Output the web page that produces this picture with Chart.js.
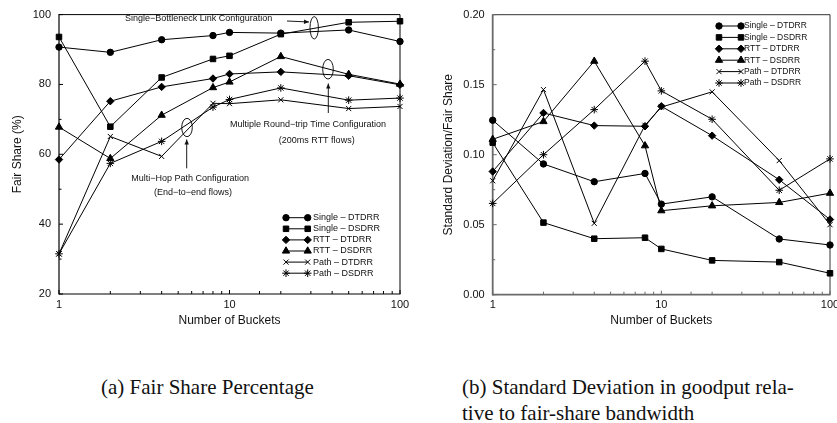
<!DOCTYPE html>
<html>
<head>
<meta charset="utf-8">
<script src="https://cdn.jsdelivr.net/npm/chart.js"></script>
<style>
html,body{margin:0;padding:0;background:#fff;overflow:hidden;width:837px;height:423px;}
canvas{position:absolute;top:0;}
#c1{left:0;}
#c2{left:420px;}
.cap{position:absolute;font-family:"Liberation Serif","Times New Roman",serif;font-size:21px;line-height:26px;color:#111;white-space:nowrap;}
</style>
</head>
<body>
<canvas id="c1" width="420" height="340"></canvas>
<canvas id="c2" width="430" height="340"></canvas>
<div class="cap" style="left:101px;top:374px;">(a) Fair Share Percentage</div>
<div class="cap" style="left:462px;top:374px;width:325px;text-align:justify;text-align-last:justify;">(b) Standard Deviation in goodput rela-</div>
<div class="cap" style="left:462px;top:400px;">tive to fair-share bandwidth</div>
<script>
// ---------------- data ----------------
const buckets = [1, 2, 4, 8, 10, 20, 50, 100];
const seriesLabels = ['Single \u2013 DTDRR', 'Single \u2013 DSDRR', 'RTT \u2013 DTDRR', 'RTT \u2013 DSDRR', 'Path \u2013 DTDRR', 'Path \u2013 DSDRR'];

// (a) Fair share percentage
const fairSingleDTDRR = [90.7, 89.2, 92.8, 94.0, 94.9, 94.7, 95.6, 92.3];
const fairSingleDSDRR = [93.6, 67.9, 82.0, 87.3, 88.2, 94.4, 97.8, 98.1];
const fairRttDTDRR    = [58.5, 75.2, 79.3, 81.7, 83.0, 83.6, 82.5, 79.9];
const fairRttDSDRR    = [67.8, 58.8, 71.2, 79.1, 80.7, 88.0, 82.9, 80.1];
const fairPathDTDRR   = [31.5, 65.1, 59.4, 74.6, 74.5, 75.6, 73.1, 73.7];
const fairPathDSDRR   = [31.5, 57.4, 63.7, 73.5, 75.7, 79.0, 75.5, 76.1];

// (b) Standard deviation / fair share
const sdSingleDTDRR = [0.1246, 0.0934, 0.0807, 0.0866, 0.0647, 0.0699, 0.0398, 0.0355];
const sdSingleDSDRR = [0.1086, 0.0515, 0.0400, 0.0407, 0.0327, 0.0245, 0.0233, 0.0153];
const sdRttDTDRR    = [0.0880, 0.1298, 0.1208, 0.1203, 0.1346, 0.1136, 0.0821, 0.0537];
const sdRttDSDRR    = [0.1110, 0.1237, 0.1668, 0.1064, 0.0600, 0.0635, 0.0659, 0.0725];
const sdPathDTDRR   = [0.0814, 0.1465, 0.0510, 0.1210, 0.1340, 0.1449, 0.0958, 0.0500];
const sdPathDSDRR   = [0.0652, 0.1000, 0.1322, 0.1668, 0.1456, 0.1253, 0.0746, 0.0970];

const xTickLabels = [1, 10, 100];
const fairYTicks = [20, 40, 60, 80, 100];
const sdYTicks = [0.00, 0.05, 0.10, 0.15, 0.20];

// ---------------- styling ----------------
const SANS = '"Liberation Sans", Arial, Helvetica, sans-serif';
const markerStyles = [
  {pointStyle: 'circle', r: 3.2},
  {pointStyle: 'rect', r: 3.9},
  {pointStyle: 'rectRot', r: 3.7},
  {pointStyle: 'triangle', r: 4.2},
  {pointStyle: 'crossRot', r: 3.6},
  {pointStyle: 'star', r: 3.8}
];

function drawMarker(ctx, style, r, x, y) {
  if (Chart.helpers && Chart.helpers.drawPoint) {
    Chart.helpers.drawPoint(ctx, {pointStyle: style, radius: r, rotation: 0, borderWidth: 1}, x, y);
    return;
  }
  ctx.beginPath(); ctx.arc(x, y, r, 0, Math.PI * 2); ctx.fill(); ctx.stroke();
}

function line(ctx, x1, y1, x2, y2) {
  ctx.beginPath(); ctx.moveTo(x1, y1); ctx.lineTo(x2, y2); ctx.stroke();
}

const framePlugin = {
  id: 'frame',
  beforeDatasetsDraw(chart, args, o) {
    const {ctx, chartArea: {left, right, top, bottom}, scales: {x, y}} = chart;
    ctx.save();
    ctx.lineCap = 'butt';
    ctx.strokeStyle = o.edgeColor; ctx.lineWidth = o.edgeWidth;
    line(ctx, left, top, right, top);
    line(ctx, right, top, right, bottom);
    ctx.strokeStyle = o.axisColor; ctx.lineWidth = o.axisWidth;
    line(ctx, left, top - 0.5, left, bottom + o.axisWidth / 2);
    line(ctx, left, bottom, right + 0.5, bottom);
    ctx.lineWidth = 1;
    x.ticks.forEach(t => {
      const px = x.getPixelForValue(t.value);
      const len = xTickLabels.includes(t.value) ? o.xMajor : o.xMinor;
      line(ctx, px, bottom, px, bottom - len);
    });
    y.ticks.forEach((t, i) => {
      const py = y.getPixelForValue(t.value);
      line(ctx, left, py, left + o.yMajor, py);
      if (i < y.ticks.length - 1) {
        const pm = y.getPixelForValue((t.value + y.ticks[i + 1].value) / 2);
        line(ctx, left, pm, left + o.yMinor, pm);
      }
    });
    ctx.restore();
  }
};

const legendPlugin = {
  id: 'lineLegend',
  afterDraw(chart, args, o) {
    const ctx = chart.ctx;
    ctx.save();
    ctx.font = o.fontSize + 'px ' + SANS;
    ctx.textBaseline = 'middle';
    ctx.textAlign = 'left';
    chart.data.datasets.forEach((ds, i) => {
      const yy = o.y0 + i * o.dy;
      ctx.strokeStyle = '#000'; ctx.fillStyle = '#000'; ctx.lineWidth = 1;
      line(ctx, o.x1, yy, o.x2, yy);
      drawMarker(ctx, ds.pointStyle, ds.pointRadius, o.x1, yy);
      drawMarker(ctx, ds.pointStyle, ds.pointRadius, o.x2, yy);
      ctx.fillStyle = '#111';
      ctx.fillText(ds.label, o.tx, yy);
    });
    ctx.restore();
  }
};

function arrow(ctx, x1, y1, x2, y2) {
  line(ctx, x1, y1, x2, y2);
  const a = Math.atan2(y2 - y1, x2 - x1), L = 5, W = 2.2;
  ctx.beginPath();
  ctx.moveTo(x2, y2);
  ctx.lineTo(x2 - L * Math.cos(a) + W * Math.sin(a), y2 - L * Math.sin(a) - W * Math.cos(a));
  ctx.lineTo(x2 - L * Math.cos(a) - W * Math.sin(a), y2 - L * Math.sin(a) + W * Math.cos(a));
  ctx.closePath(); ctx.fill();
}

const notesPlugin = {
  id: 'notes',
  afterDatasetsDraw(chart, args, o) {
    if (!o || !o.items) return;
    const ctx = chart.ctx;
    ctx.save();
    ctx.strokeStyle = '#000'; ctx.fillStyle = '#111'; ctx.lineWidth = 0.9;
    ctx.font = '9px ' + SANS; ctx.textAlign = 'center'; ctx.textBaseline = 'middle';
    o.items.forEach(it => {
      if (it.t === 'text') ctx.fillText(it.s, it.x, it.y);
      else if (it.t === 'ellipse') { ctx.beginPath(); ctx.ellipse(it.x, it.y, it.rx, it.ry, 0, 0, Math.PI * 2); ctx.stroke(); }
      else if (it.t === 'arrow') arrow(ctx, it.x1, it.y1, it.x2, it.y2);
    });
    ctx.restore();
  }
};

function makeChart(canvas, series, cfg) {
  return new Chart(canvas, {
    type: 'line',
    data: {
      datasets: series.map((arr, k) => ({
        label: seriesLabels[k],
        data: buckets.map((b, i) => ({x: b, y: arr[i]})),
        borderColor: '#000', backgroundColor: '#000', borderWidth: 1,
        pointStyle: markerStyles[k].pointStyle, pointRadius: markerStyles[k].r,
        pointBorderWidth: 1, pointBackgroundColor: '#000', pointBorderColor: '#000',
        pointHoverRadius: markerStyles[k].r,
        tension: 0, fill: false, clip: false
      }))
    },
    options: {
      responsive: false, animation: false, devicePixelRatio: 1,
      events: [],
      layout: {padding: {left: 0, top: cfg.top, right: cfg.right, bottom: 0}},
      plugins: {
        legend: {display: false}, tooltip: {enabled: false},
        frame: cfg.frame, lineLegend: cfg.legend, notes: cfg.notes || {}
      },
      scales: {
        x: {
          type: 'logarithmic', min: 1, max: 100,
          grid: {display: false, drawTicks: false}, border: {display: false},
          ticks: {autoSkip: false, maxRotation: 0, padding: 4, color: '#111',
            font: {family: SANS, size: 11},
            callback: v => xTickLabels.includes(v) ? String(v) : ''},
          title: {display: true, text: 'Number of Buckets', color: '#111',
            font: {family: SANS, size: 12}, padding: {top: 0, bottom: 12}},
          afterFit: s => { s.height = cfg.xh; }
        },
        y: {
          type: 'linear', min: cfg.yTicks[0], max: cfg.yTicks[cfg.yTicks.length - 1],
          grid: {display: false, drawTicks: false}, border: {display: false},
          afterBuildTicks: s => { s.ticks = cfg.yTicks.map(v => ({value: v})); },
          ticks: {padding: 8, color: '#111', font: {family: SANS, size: 11}, callback: cfg.yFmt},
          title: {display: true, text: cfg.yTitle, color: '#111',
            font: {family: SANS, size: 12}, padding: {top: cfg.yTitlePad, bottom: 0}},
          afterFit: s => { s.width = cfg.yw; }
        }
      }
    },
    plugins: [framePlugin, notesPlugin, legendPlugin]
  });
}

makeChart(document.getElementById('c1'),
  [fairSingleDTDRR, fairSingleDSDRR, fairRttDTDRR, fairRttDSDRR, fairPathDTDRR, fairPathDSDRR],
  {
    top: 11, right: 20, xh: 46, yw: 59, yTicks: fairYTicks, yTitle: 'Fair Share (%)', yTitlePad: 10.3,
    yFmt: v => String(v),
    frame: {edgeColor: '#000', edgeWidth: 1, axisColor: '#000', axisWidth: 1.2, xMajor: 4, xMinor: 3, yMajor: 4, yMinor: 2.5},
    legend: {x1: 286, x2: 307.7, tx: 313, y0: 217.7, dy: 11.1, fontSize: 9},
    notes: {items: [
      {t: 'text', s: 'Single\u2212Bottleneck Link Configuration', x: 198.7, y: 18.3},
      {t: 'arrow', x1: 287, y1: 21, x2: 309, y2: 22},
      {t: 'ellipse', x: 314.2, y: 27.8, rx: 4.2, ry: 11.2},
      {t: 'ellipse', x: 328, y: 69.2, rx: 5.3, ry: 9.8},
      {t: 'arrow', x1: 328.3, y1: 113, x2: 328.3, y2: 83.5},
      {t: 'text', s: 'Multiple Round\u2212trip Time Configuration', x: 308, y: 125},
      {t: 'text', s: '(200ms RTT flows)', x: 316.7, y: 140.7},
      {t: 'ellipse', x: 187, y: 127.5, rx: 5.3, ry: 9.2},
      {t: 'arrow', x1: 186.7, y1: 168.3, x2: 186.7, y2: 139.5},
      {t: 'text', s: 'Multi\u2212Hop Path Configuration', x: 190.2, y: 179},
      {t: 'text', s: '(End\u2212to\u2212end flows)', x: 193, y: 192.7}
    ]}
  });

makeChart(document.getElementById('c2'),
  [sdSingleDTDRR, sdSingleDSDRR, sdRttDTDRR, sdRttDSDRR, sdPathDTDRR, sdPathDSDRR],
  {
    top: 14.7, right: 20, xh: 45.3, yw: 72.7, yTicks: sdYTicks, yTitle: 'Standard Deviation/Fair Share', yTitlePad: 21,
    yFmt: v => Number(v).toFixed(2),
    frame: {edgeColor: '#333', edgeWidth: 1, axisColor: '#6a6a6a', axisWidth: 1.8, xMajor: 4, xMinor: 3, yMajor: 4, yMinor: 2.5},
    legend: {x1: 299, x2: 321, tx: 324, y0: 26, dy: 11.4, fontSize: 8.5}
  });
</script>
</body>
</html>
